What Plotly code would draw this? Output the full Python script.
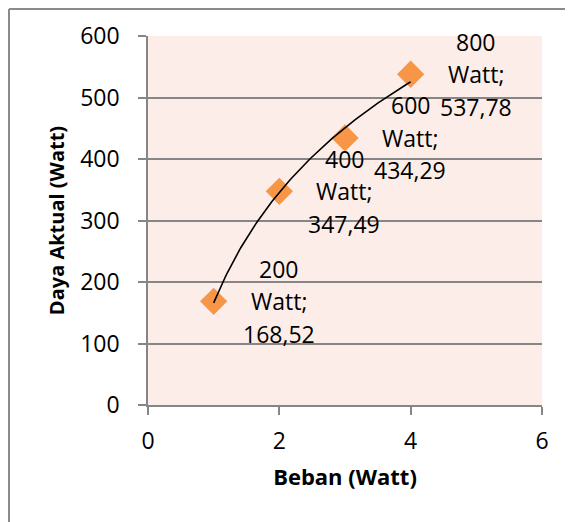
import numpy as np
import plotly.graph_objects as go

# Data
beban = [1, 2, 3, 4]
daya_aktual = [168.52, 347.49, 434.29, 537.78]
label_watt = ["200", "400", "600", "800"]

x_ticks = [0, 2, 4, 6]
y_ticks = [0, 100, 200, 300, 400, 500, 600]

FONT = "Open Sans"
GRID = "#868686"
ORANGE = "#F79646"

# Logarithmic trendline (as Excel fits it) from the data
a, b = np.polyfit(np.log(beban), daya_aktual, 1)
xt = np.linspace(min(beban), max(beban), 100)
yt = a * np.log(xt) + b

fig = go.Figure()
fig.add_trace(go.Scatter(
    x=beban, y=daya_aktual, mode="markers",
    marker=dict(symbol="diamond", size=21, color=ORANGE, line=dict(width=0)),
    showlegend=False, hoverinfo="skip"))
fig.add_trace(go.Scatter(
    x=xt, y=yt, mode="lines", line=dict(color="black", width=1.6),
    showlegend=False, hoverinfo="skip"))

LINE_GAP = 32.5
for xv, yv, w in zip(beban, daya_aktual, label_watt):
    lines = [w, "Watt;", f"{yv:.2f}".replace(".", ",")]
    for i, line in enumerate(lines):
        fig.add_annotation(x=xv, y=yv, text=line, showarrow=False, xshift=65,
                           yshift=LINE_GAP * (1 - i),
                           xanchor="center", yanchor="middle", align="center",
                           font=dict(family=FONT, size=23, color="black"))

# outer chart border (left and top edges visible)
BORDER = dict(color="#8a8a8a", width=2)
fig.add_shape(type="line", xref="paper", yref="paper",
              x0=-0.3528, x1=-0.3528, y0=1.073, y1=-0.35, line=BORDER)
fig.add_shape(type="line", xref="paper", yref="paper",
              x0=-0.3528, x1=1.1, y0=1.073, y1=1.073, line=BORDER)

fig.update_layout(
    width=565, height=514,
    margin=dict(l=140, r=31, t=28, b=117),
    paper_bgcolor="white", plot_bgcolor="#FCEDE8",
    font=dict(family=FONT, size=23, color="black"),
    xaxis=dict(range=[0, 6], tickvals=x_ticks, showgrid=False, zeroline=False,
               showline=True, linecolor=GRID, linewidth=1.5,
               ticks="outside", ticklen=8, tickcolor=GRID, tickwidth=1.5,
               ticklabelstandoff=7,
               title=dict(text="<b>Beban (Watt)</b>", font=dict(family=FONT, size=22),
                          standoff=14)),
    yaxis=dict(range=[0, 600], tickvals=y_ticks, showgrid=True, gridcolor=GRID,
               gridwidth=1.5, zeroline=False,
               showline=True, linecolor=GRID, linewidth=1.5,
               ticks="outside", ticklen=8, tickcolor=GRID, tickwidth=1.5,
               ticklabelstandoff=14,
               title=dict(text="<b>Daya Aktual (Watt)</b>", font=dict(family=FONT, size=20),
                          standoff=10)),
)

fig.write_html("out.html")
